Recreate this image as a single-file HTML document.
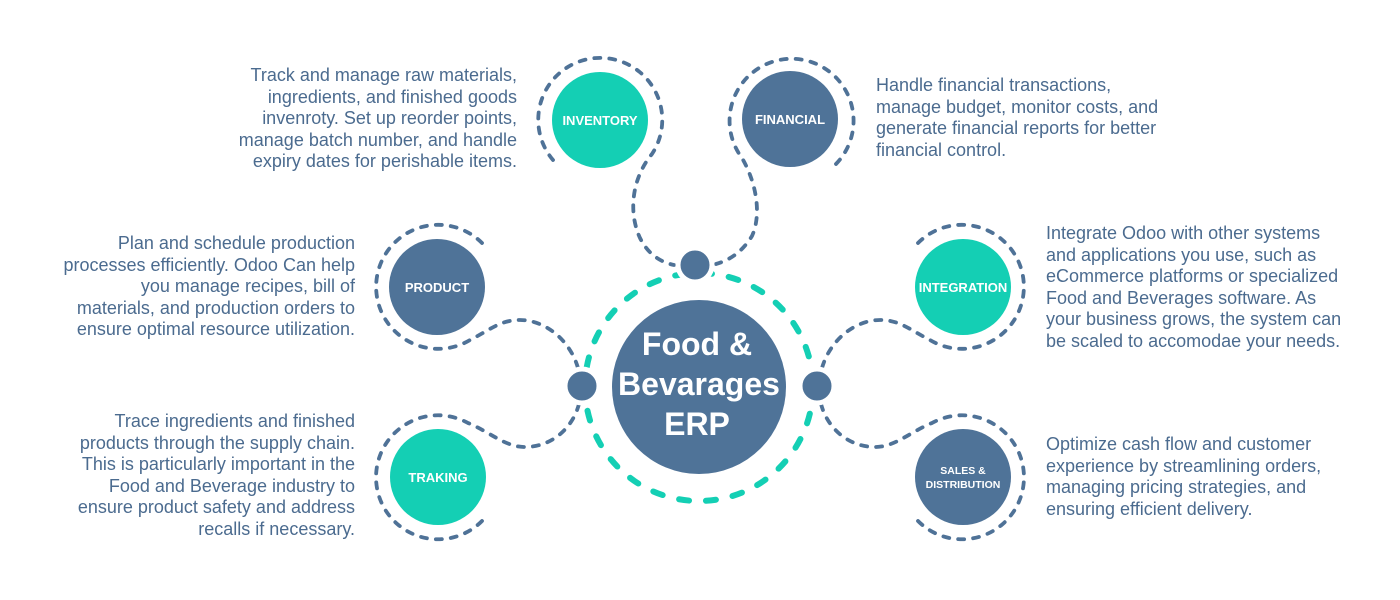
<!DOCTYPE html>
<html><head><meta charset="utf-8"><style>
body{margin:0;width:1400px;height:600px;background:#fff;overflow:hidden;position:relative;font-family:"Liberation Sans",sans-serif}
.t{position:absolute;color:#4b6b8f;font-size:18px;line-height:21.6px;white-space:nowrap}
.r{text-align:right}
svg{position:absolute;left:0;top:0}
</style></head><body>
<svg width="1400" height="600" viewBox="0 0 1400 600">
<g fill="none" stroke="#4f7297" stroke-width="3.8" stroke-linecap="round" stroke-dasharray="6 9">
<path d="M553,160 A62 62 0 1 1 652,154 C632,178 628,212 640,238 C648,254 660,262 674,265"/>
<path d="M836,164 A62 62 0 1 0 742,158 C756,182 762,214 752,236 C742,252 730,260 716,264"/>
<g id="L">
<path d="M482,243 A62 62 0 1 0 470,340 C490,330 500,320 520,320 C545,320 570,340 578,368"/>
<path d="M482,521 A62 62 0 1 1 468,423 C490,432 505,447 525,447 C550,447 572,430 579,404"/>
</g>
<use href="#L" transform="translate(1400,0) scale(-1,1)"/>
</g>
<circle cx="699" cy="387" r="114" fill="none" stroke="#14cfb4" stroke-width="6" stroke-linecap="round" stroke-dasharray="10 17"/>
<g fill="#4f7398" stroke="#fff" stroke-width="5">
<circle cx="695" cy="265" r="17"/><circle cx="582" cy="386" r="17"/><circle cx="817" cy="386" r="17"/>
</g>
<circle cx="699" cy="387" r="87" fill="#4f7398"/>
<circle cx="600" cy="120" r="48" fill="#14cfb4"/>
<circle cx="790" cy="119" r="48" fill="#4f7398"/>
<circle cx="437" cy="287" r="48" fill="#4f7398"/>
<circle cx="438" cy="477" r="48" fill="#14cfb4"/>
<circle cx="963" cy="287" r="48" fill="#14cfb4"/>
<circle cx="963" cy="477" r="48" fill="#4f7398"/>
<g fill="#fff" font-family="Liberation Sans,sans-serif" font-weight="bold" text-anchor="middle">
<text x="600" y="125" font-size="13">INVENTORY</text>
<text x="790" y="124" font-size="13">FINANCIAL</text>
<text x="437" y="292" font-size="13">PRODUCT</text>
<text x="438" y="482" font-size="13">TRAKING</text>
<text x="963" y="292" font-size="13">INTEGRATION</text>
<text x="963" y="474" font-size="10.5">SALES &amp;</text>
<text x="963" y="488" font-size="10.5">DISTRIBUTION</text>
<text x="697" y="355" font-size="32">Food &amp;</text>
<text x="699" y="395" font-size="32">Bevarages</text>
<text x="697" y="435" font-size="32">ERP</text>
</g>
</svg>
<div class="t r" style="right:883px;top:65px">Track and manage raw materials,<br>ingredients, and finished goods<br>invenroty. Set up reorder points,<br>manage batch number, and handle<br>expiry dates for perishable items.</div>
<div class="t" style="left:876px;top:75px">Handle financial transactions,<br>manage budget, monitor costs, and<br>generate financial reports for better<br>financial control.</div>
<div class="t r" style="right:1045px;top:233px">Plan and schedule production<br>processes efficiently. Odoo Can help<br>you manage recipes, bill of<br>materials, and production orders to<br>ensure optimal resource utilization.</div>
<div class="t" style="left:1046px;top:223px">Integrate Odoo with other systems<br>and applications you use, such as<br>eCommerce platforms or specialized<br>Food and Beverages software. As<br>your business grows, the system can<br>be scaled to accomodae your needs.</div>
<div class="t r" style="right:1045px;top:411px">Trace ingredients and finished<br>products through the supply chain.<br>This is particularly important in the<br>Food and Beverage industry to<br>ensure product safety and address<br>recalls if necessary.</div>
<div class="t" style="left:1046px;top:434px">Optimize cash flow and customer<br>experience by streamlining orders,<br>managing pricing strategies, and<br>ensuring efficient delivery.</div>
</body></html>
